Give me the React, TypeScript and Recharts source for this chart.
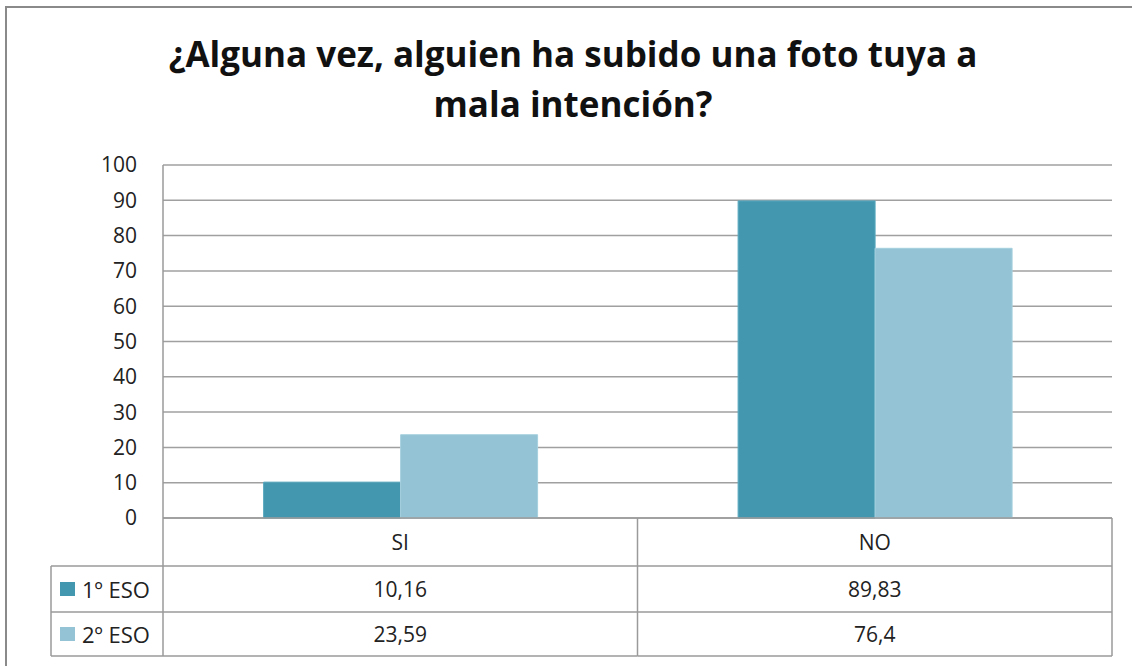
import { BarChart, Bar, XAxis, YAxis, CartesianGrid } from "recharts";

const categories = ["SI", "NO"];
const eso1 = [10.16, 89.83];
const eso2 = [23.59, 76.4];
const seriesNames = ["1º ESO", "2º ESO"];
const seriesColors = ["#4397AF", "#93C3D4"];
const seriesEdges = ["#5aa9bf", "#a6d0de"];
const yTicks = [0, 10, 20, 30, 40, 50, 60, 70, 80, 90, 100];

const data = categories.map((cat, i) => ({ cat, eso1: eso1[i], eso2: eso2[i] }));
const seriesValues = [eso1, eso2];

const FONT = "'Open Sans', 'DejaVu Sans', sans-serif";
const LINE = "#9a9a9a";
const PLOT_LEFT = 163;
const PLOT_RIGHT = 1112;
const TABLE_LEFT = 51;
// header row, then one row per series
const ROW_H = [48, 46, 44];

const fmt = (v: number) => String(v).replace(".", ",");

// draws the Excel-style data table under the axis, one column per category
function TableTick(props: any) {
  const { x, y, payload, index } = props;
  const half =
    payload && payload.offset
      ? payload.offset
      : (PLOT_RIGHT - PLOT_LEFT) / categories.length / 2;
  const x0 = x - half;
  const x1 = x + half;
  const rows = [y, y + ROW_H[0], y + ROW_H[0] + ROW_H[1], y + ROW_H[0] + ROW_H[1] + ROW_H[2]];
  const i = categories.indexOf(payload.value);

  return (
    <g>
      <line x1={x1} y1={rows[0]} x2={x1} y2={rows[3]} stroke={LINE} strokeWidth={1.5} />
      {rows.slice(1).map((ry, k) => (
        <line key={k} x1={x0} y1={ry} x2={x1} y2={ry} stroke={LINE} strokeWidth={1.5} />
      ))}
      <text
        x={x}
        y={rows[0] + ROW_H[0] / 2}
        textAnchor="middle"
        dominantBaseline="central"
        fontFamily={FONT}
        fontSize={21}
        fill="#222"
      >
        {payload.value}
      </text>
      {seriesValues.map((vals, s) => (
        <text
          key={s}
          x={x}
          y={rows[s + 1] + ROW_H[s + 1] / 2}
          textAnchor="middle"
          dominantBaseline="central"
          fontFamily={FONT}
          fontSize={21}
          fill="#222"
        >
          {fmt(vals[i])}
        </text>
      ))}
      {index === 0 && (
        <g>
          <line x1={x0} y1={rows[0]} x2={x0} y2={rows[3]} stroke={LINE} strokeWidth={1.5} />
          <line x1={TABLE_LEFT} y1={rows[1]} x2={TABLE_LEFT} y2={rows[3]} stroke={LINE} strokeWidth={1.5} />
          {rows.slice(1).map((ry, k) => (
            <line key={k} x1={TABLE_LEFT} y1={ry} x2={x0} y2={ry} stroke={LINE} strokeWidth={1.5} />
          ))}
          {seriesNames.map((name, s) => {
            const cy = rows[s + 1] + ROW_H[s + 1] / 2;
            return (
              <g key={name}>
                <rect x={TABLE_LEFT + 9} y={cy - 7} width={15} height={14} fill={seriesColors[s]} />
                <text
                  x={TABLE_LEFT + 31}
                  y={cy}
                  dominantBaseline="central"
                  fontFamily={FONT}
                  fontSize={22}
                  fill="#222"
                >
                  {name}
                </text>
              </g>
            );
          })}
        </g>
      )}
    </g>
  );
}

export default function App() {
  return (
    <div
      style={{
        position: "absolute",
        left: 0,
        top: 0,
        width: 1132,
        height: 666,
        overflow: "hidden",
        background: "#fff",
      }}
    >
      <div
        style={{
          position: "absolute",
          left: 5,
          top: 6,
          width: 1200,
          height: 700,
          border: "2px solid #8a8a8a",
        }}
      />
      <div
        style={{
          position: "absolute",
          left: 7,
          top: 29,
          width: 1132,
          textAlign: "center",
          fontFamily: FONT,
          fontWeight: 700,
          fontSize: 35,
          lineHeight: "50px",
          color: "#111",
        }}
      >
        ¿Alguna vez, alguien ha subido una foto tuya a
        <br />
        mala intención?
      </div>
      <div style={{ position: "absolute", left: 0, top: 0 }}>
        <BarChart
          width={1132}
          height={666}
          data={data}
          margin={{ top: 165, right: 20, bottom: 10, left: 0 }}
          barGap={0}
          barCategoryGap="21.2%"
        >
          <CartesianGrid horizontal vertical={false} stroke="#a0a0a0" strokeWidth={1.5} />
          <XAxis
            dataKey="cat"
            height={138}
            interval={0}
            axisLine={{ stroke: LINE, strokeWidth: 1.5 }}
            tickLine={false}
            tickSize={0}
            tickMargin={0}
            tick={(p: any) => <TableTick {...p} />}
          />
          <YAxis
            width={163}
            domain={[0, 100]}
            ticks={yTicks}
            interval={0}
            axisLine={{ stroke: LINE, strokeWidth: 1.5 }}
            tickLine={false}
            tickSize={0}
            tickMargin={26}
            tick={{ fill: "#222", fontSize: 21, fontFamily: FONT }}
          />
          <Bar
            dataKey="eso1"
            name={seriesNames[0]}
            fill={seriesColors[0]}
            stroke={seriesEdges[0]}
            strokeWidth={1}
            isAnimationActive={false}
          />
          <Bar
            dataKey="eso2"
            name={seriesNames[1]}
            fill={seriesColors[1]}
            stroke={seriesEdges[1]}
            strokeWidth={1}
            isAnimationActive={false}
          />
        </BarChart>
      </div>
    </div>
  );
}
